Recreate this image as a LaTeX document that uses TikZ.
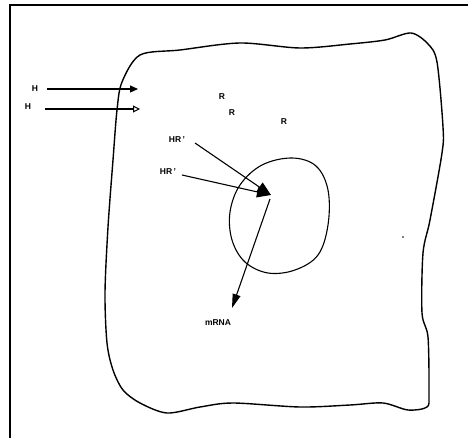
\documentclass[tikz,border=0pt]{standalone}
\usepackage{fontspec}
\setmainfont{Liberation Sans}
\usetikzlibrary{arrows.meta}
\begin{document}
\begin{tikzpicture}[x=1pt,y=-1pt,
  lbl/.style={font=\bfseries\fontsize{8.5}{9}\selectfont, inner sep=0.5pt},
  membrane/.style={line width=1.4pt, line join=round},
  conn/.style={line width=1.1pt},
  solidhead/.style={-{Triangle[length=8pt,width=7pt]}},
  openhead/.style={-{Triangle[open,length=7pt,width=7pt,line width=1pt]}},
  bighead/.style={-{Triangle[length=14pt,width=11pt]}},
  longhead/.style={-{Triangle[length=14pt,width=8pt]}}]
\useasboundingbox (0,0) rectangle (468,438);
\fill[white] (0,0) rectangle (468,438);

% outer frame
\draw[line width=2pt] (10,438) -- (10,5) -- (468,5);

% cell membrane
\draw[membrane] plot[smooth cycle, tension=0.5] coordinates {
  (140,55) (180,50) (240,43) (300,48) (350,44) (385,40) (411,33)
  (428,44) (437,62) (443,127) (442,153) (430,220) (423,253) (422,313)
  (428,337) (429,393) (427,407) (408,410) (383,403) (350,405) (300,407)
  (233,403) (200,407) (167,413) (140,403) (123,390) (113,370) (107,343)
  (105,293) (108,227) (113,160) (117,110) (122,82)};

% nucleus
\draw[line width=1.1pt] plot[smooth cycle, tension=0.6] coordinates {
  (292,158) (316,166) (328,190) (328,225) (318,255) (295,270) (268,273)
  (245,262) (232,240) (230,212) (240,185) (262,165)};

% labels
\node[lbl] (h1) at (35,89) {H};
\node[lbl] (h2) at (28,107) {H};
\node[lbl] (r1) at (222,97) {R};
\node[lbl] (r2) at (232,113) {R};
\node[lbl] (r3) at (284,122) {R};
\node[lbl] (hr1) at (177,140) {HR\,'};
\node[lbl] (hr2) at (168,172) {HR\,'};
\node[lbl] (mrna) at (218,323) {mRNA};

% arrow end points
\coordinate (t1) at (138,89);
\coordinate (t2) at (140,109);
\coordinate (hit) at (271,195);
\coordinate (src) at (270,199);
\coordinate (mtip) at (232,308);

% arrows
\draw[conn,solidhead] (47,89) -- (t1);
\draw[conn,openhead] (45,109) -- (t2);
\draw[conn,bighead] (195,143) -- (hit);
\draw[conn,bighead] (182,175) -- (hit);
\draw[conn,longhead] (src) -- (mtip);

% stray speck
\fill (403,237) circle (0.8pt);
\end{tikzpicture}
\end{document}
